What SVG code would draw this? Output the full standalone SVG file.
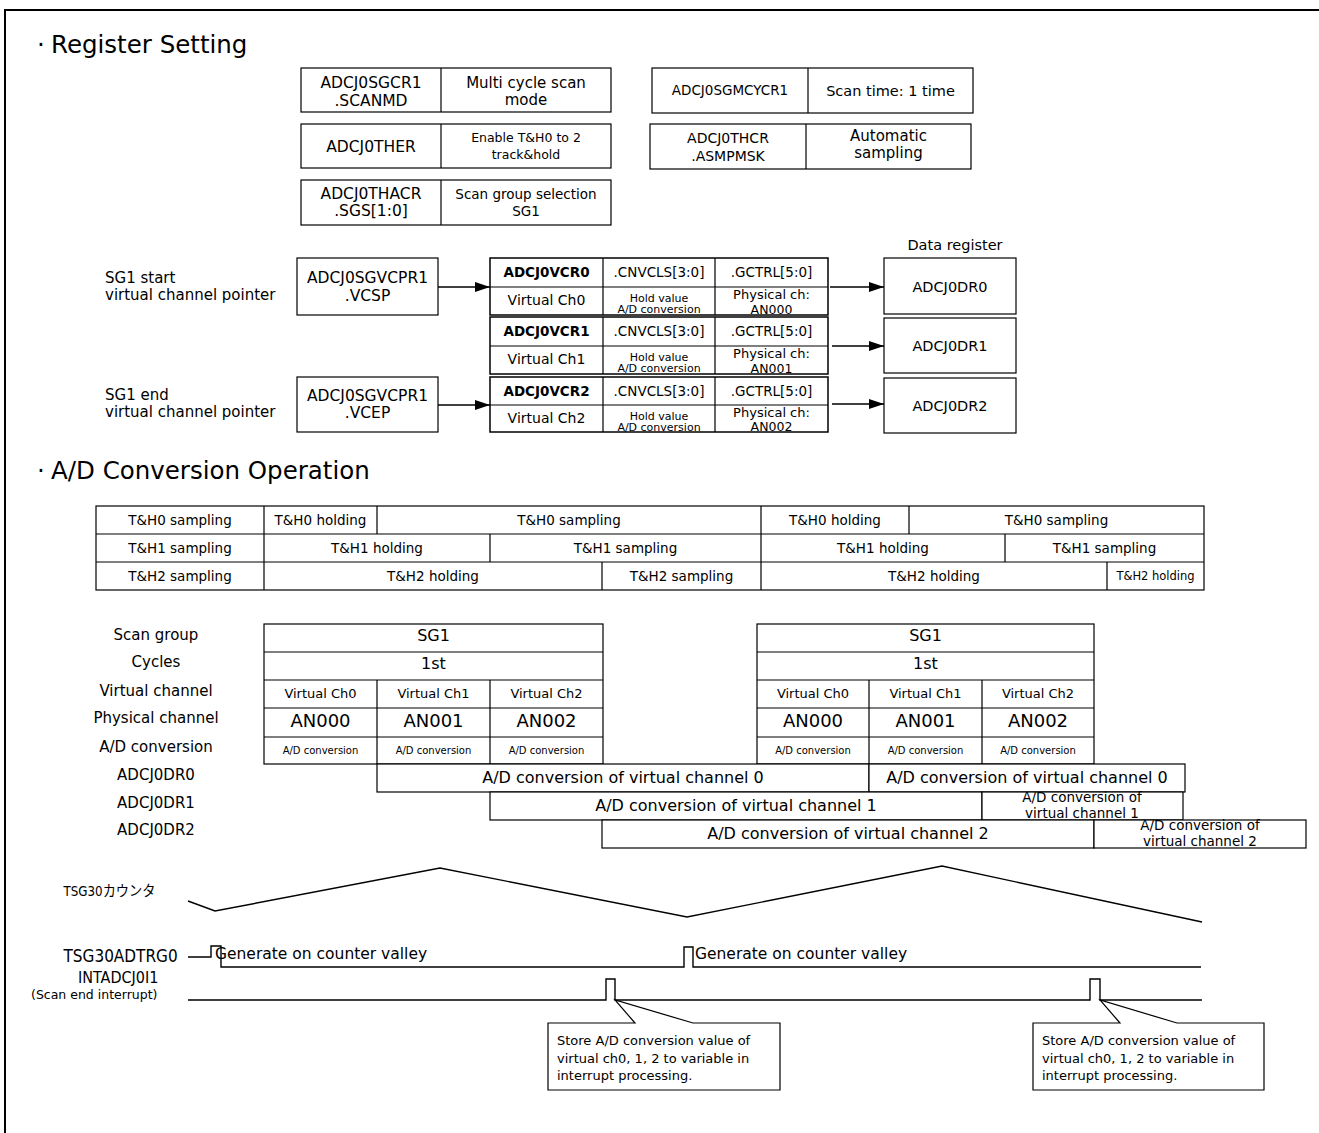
<svg xmlns="http://www.w3.org/2000/svg" width="1319" height="1133" viewBox="0 0 1319 1133">
<style>
  text { font-family: "DejaVu Sans", Verdana, sans-serif; fill: #000; }
  .m { text-anchor: middle; }
  .cn { font-family: "DejaVu Sans Condensed", "DejaVu Sans", sans-serif; }
  .jp { font-family: "DejaVu Sans Condensed", "Noto Sans CJK JP", sans-serif; }
  .b { font-weight: bold; }
  .box { fill: #fff; stroke: #000; stroke-width: 1.2; }
  .grp { fill: #fff; stroke: #000; stroke-width: 1.5; }
  .ln { fill: none; stroke: #000; stroke-width: 1.2; }
  .wave { fill: none; stroke: #000; stroke-width: 1.4; }
  .arr { fill: none; stroke: #000; stroke-width: 1.6; marker-end: url(#ah); }
  .frame { fill: none; stroke: #000; stroke-width: 2; }
  .ttl { font-size: 24.5px; }
</style>
<defs>
  <marker id="ah" markerUnits="userSpaceOnUse" markerWidth="16" markerHeight="12" refX="15" refY="6" orient="auto">
    <path d="M0,1 L15,6 L0,11 Z" fill="#000"/>
  </marker>
</defs>

<rect width="1319" height="1133" fill="#fff"/>
<path class="frame" d="M5,1133 V10 H1319"/>

<!-- section titles -->
<text class="ttl" x="37" y="53">·<tspan x="51">Register Setting</tspan></text>
<text class="ttl" x="37" y="479">·<tspan x="51">A/D Conversion Operation</tspan></text>

<!-- register setting table -->
<g id="reg-scanmd">
  <rect class="box" x="301" y="68" width="310" height="44"/>
  <line class="ln" x1="441" y1="68" x2="441" y2="112"/>
  <text class="m" x="371" y="88" font-size="15.5">ADCJ0SGCR1</text>
  <text class="m" x="371" y="106" font-size="15.5">.SCANMD</text>
  <text class="m" x="526" y="88" font-size="15">Multi cycle scan</text>
  <text class="m" x="526" y="105" font-size="15">mode</text>
</g>
<g id="reg-sgmcycr">
  <rect class="box" x="652" y="68" width="321" height="45"/>
  <line class="ln" x1="808" y1="68" x2="808" y2="113"/>
  <text class="m" x="730" y="95" font-size="13.5">ADCJ0SGMCYCR1</text>
  <text class="m" x="890.5" y="96" font-size="14.5">Scan time: 1 time</text>
</g>
<g id="reg-ther">
  <rect class="box" x="301" y="124" width="310" height="44"/>
  <line class="ln" x1="441" y1="124" x2="441" y2="168"/>
  <text class="m" x="371" y="152" font-size="15.5">ADCJ0THER</text>
  <text class="m" x="526" y="142" font-size="12.5">Enable T&amp;H0 to 2</text>
  <text class="m" x="526" y="159" font-size="12.5">track&amp;hold</text>
</g>
<g id="reg-thcr">
  <rect class="box" x="650" y="124" width="321" height="45"/>
  <line class="ln" x1="806" y1="124" x2="806" y2="169"/>
  <text class="m" x="728" y="143" font-size="14">ADCJ0THCR</text>
  <text class="m" x="728" y="161" font-size="14">.ASMPMSK</text>
  <text class="m" x="888.5" y="141" font-size="15">Automatic</text>
  <text class="m" x="888.5" y="158" font-size="15">sampling</text>
</g>
<g id="reg-thacr">
  <rect class="box" x="301" y="180" width="310" height="45"/>
  <line class="ln" x1="441" y1="180" x2="441" y2="225"/>
  <text class="m" x="371" y="199" font-size="15.5">ADCJ0THACR</text>
  <text class="m" x="371" y="216" font-size="15.5">.SGS[1:0]</text>
  <text class="m" x="526" y="199" font-size="13.5">Scan group selection</text>
  <text class="m" x="526" y="216" font-size="13.5">SG1</text>
</g>

<!-- virtual channel pointers -->
<g id="ptr-start">
  <text x="105" y="283" font-size="15">SG1 start</text>
  <text x="105" y="300" font-size="15">virtual channel pointer</text>
  <rect class="box" x="297" y="258" width="141" height="57"/>
  <text class="m" x="367.5" y="283" font-size="15.5">ADCJ0SGVCPR1</text>
  <text class="m" x="367.5" y="301" font-size="15.5">.VCSP</text>
</g>
<g id="ptr-end">
  <text x="105" y="400" font-size="15">SG1 end</text>
  <text x="105" y="417" font-size="15">virtual channel pointer</text>
  <rect class="box" x="297" y="377" width="141" height="55"/>
  <text class="m" x="367.5" y="401" font-size="15.5">ADCJ0SGVCPR1</text>
  <text class="m" x="367.5" y="418" font-size="15.5">.VCEP</text>
</g>

<!-- virtual channel registers -->
<g id="vcr0">
  <rect class="grp" x="490" y="258" width="338" height="57"/>
  <path class="ln" d="M490,287 H828 M603,258 V315 M715,258 V315"/>
  <text class="m b" x="546.5" y="277" font-size="13.5">ADCJ0VCR0</text>
  <text class="m" x="659" y="277" font-size="13.5">.CNVCLS[3:0]</text>
  <text class="m" x="771.5" y="277" font-size="13.5">.GCTRL[5:0]</text>
  <text class="m" x="546.5" y="305" font-size="14">Virtual Ch0</text>
  <text class="m" x="659" y="302" font-size="11">Hold value</text>
  <text class="m" x="659" y="313" font-size="11">A/D conversion</text>
  <text class="m" x="771.5" y="298.5" font-size="13">Physical ch:</text>
  <text class="m" x="771.5" y="314" font-size="12.5">AN000</text>
</g>
<g id="vcr1">
  <rect class="grp" x="490" y="317" width="338" height="57"/>
  <path class="ln" d="M490,346 H828 M603,317 V374 M715,317 V374"/>
  <text class="m b" x="546.5" y="336" font-size="13.5">ADCJ0VCR1</text>
  <text class="m" x="659" y="336" font-size="13.5">.CNVCLS[3:0]</text>
  <text class="m" x="771.5" y="336" font-size="13.5">.GCTRL[5:0]</text>
  <text class="m" x="546.5" y="364" font-size="14">Virtual Ch1</text>
  <text class="m" x="659" y="361" font-size="11">Hold value</text>
  <text class="m" x="659" y="372" font-size="11">A/D conversion</text>
  <text class="m" x="771.5" y="357.5" font-size="13">Physical ch:</text>
  <text class="m" x="771.5" y="373" font-size="12.5">AN001</text>
</g>
<g id="vcr2">
  <rect class="grp" x="490" y="377" width="338" height="55"/>
  <path class="ln" d="M490,405 H828 M603,377 V432 M715,377 V432"/>
  <text class="m b" x="546.5" y="396" font-size="13.5">ADCJ0VCR2</text>
  <text class="m" x="659" y="396" font-size="13.5">.CNVCLS[3:0]</text>
  <text class="m" x="771.5" y="396" font-size="13.5">.GCTRL[5:0]</text>
  <text class="m" x="546.5" y="423" font-size="14">Virtual Ch2</text>
  <text class="m" x="659" y="420" font-size="11">Hold value</text>
  <text class="m" x="659" y="431" font-size="11">A/D conversion</text>
  <text class="m" x="771.5" y="416.5" font-size="13">Physical ch:</text>
  <text class="m" x="771.5" y="431" font-size="12.5">AN002</text>
</g>

<!-- data registers -->
<text class="m" x="955" y="250" font-size="14.5">Data register</text>
<g id="dr0">
  <rect class="box" x="884" y="258" width="132" height="56"/>
  <text class="m" x="950" y="291.5" font-size="14.5">ADCJ0DR0</text>
</g>
<g id="dr1">
  <rect class="box" x="884" y="318" width="132" height="55"/>
  <text class="m" x="950" y="351" font-size="14.5">ADCJ0DR1</text>
</g>
<g id="dr2">
  <rect class="box" x="884" y="378" width="132" height="55"/>
  <text class="m" x="950" y="411" font-size="14.5">ADCJ0DR2</text>
</g>

<!-- connectors -->
<g id="connectors">
  <line class="arr" x1="438" y1="287" x2="490" y2="287"/>
  <line class="arr" x1="438" y1="405" x2="490" y2="405"/>
  <line class="arr" x1="830" y1="287" x2="884" y2="287"/>
  <line class="arr" x1="832" y1="346" x2="884" y2="346"/>
  <line class="arr" x1="832" y1="404" x2="884" y2="404"/>
</g>

<!-- track & hold state table -->
<g id="th-table" font-size="13.5">
  <rect class="box" x="96" y="506" width="1108" height="84"/>
  <path class="ln" d="M96,534 H1204 M96,562 H1204
    M264,506 V590 M761,506 V590
    M377,506 V534 M909,506 V534
    M490,534 V562 M1005,534 V562
    M602,562 V590 M1107,562 V590"/>
  <text class="m" x="180" y="525">T&amp;H0 sampling</text>
  <text class="m" x="320.5" y="525">T&amp;H0 holding</text>
  <text class="m" x="569" y="525">T&amp;H0 sampling</text>
  <text class="m" x="835" y="525">T&amp;H0 holding</text>
  <text class="m" x="1056.5" y="525">T&amp;H0 sampling</text>
  <text class="m" x="180" y="553">T&amp;H1 sampling</text>
  <text class="m" x="377" y="553">T&amp;H1 holding</text>
  <text class="m" x="625.5" y="553">T&amp;H1 sampling</text>
  <text class="m" x="883" y="553">T&amp;H1 holding</text>
  <text class="m" x="1104.5" y="553">T&amp;H1 sampling</text>
  <text class="m" x="180" y="581">T&amp;H2 sampling</text>
  <text class="m" x="433" y="581">T&amp;H2 holding</text>
  <text class="m" x="681.5" y="581">T&amp;H2 sampling</text>
  <text class="m" x="934" y="581">T&amp;H2 holding</text>
  <text class="m" x="1155.5" y="580" font-size="11.5">T&amp;H2 holding</text>
</g>

<!-- row labels of the scan timing chart -->
<g id="row-labels" font-size="15">
  <text class="m" x="156" y="640">Scan group</text>
  <text class="m" x="156" y="667">Cycles</text>
  <text class="m" x="156" y="696">Virtual channel</text>
  <text class="m" x="156" y="723">Physical channel</text>
  <text class="m" x="156" y="752">A/D conversion</text>
  <text class="m" x="156" y="780">ADCJ0DR0</text>
  <text class="m" x="156" y="808">ADCJ0DR1</text>
  <text class="m" x="156" y="835">ADCJ0DR2</text>
</g>

<!-- scan group SG1, first pass -->
<g id="scan1">
  <rect class="box" x="264" y="624" width="339" height="140"/>
  <path class="ln" d="M264,652 H603 M264,680 H603 M264,708 H603 M264,737 H603 M377,680 V764 M490,680 V764"/>
  <text class="m" x="433.5" y="641" font-size="16">SG1</text>
  <text class="m" x="433.5" y="669" font-size="16">1st</text>
  <text class="m" x="320.5" y="698" font-size="13">Virtual Ch0</text>
  <text class="m" x="433.5" y="698" font-size="13">Virtual Ch1</text>
  <text class="m" x="546.5" y="698" font-size="13">Virtual Ch2</text>
  <text class="m" x="320.5" y="727" font-size="18">AN000</text>
  <text class="m" x="433.5" y="727" font-size="18">AN001</text>
  <text class="m" x="546.5" y="727" font-size="18">AN002</text>
  <text class="m" x="320.5" y="754" font-size="10">A/D conversion</text>
  <text class="m" x="433.5" y="754" font-size="10">A/D conversion</text>
  <text class="m" x="546.5" y="754" font-size="10">A/D conversion</text>
</g>

<!-- scan group SG1, second pass -->
<g id="scan2">
  <rect class="box" x="757" y="624" width="337" height="140"/>
  <path class="ln" d="M757,652 H1094 M757,680 H1094 M757,708 H1094 M757,737 H1094 M869,680 V764 M982,680 V764"/>
  <text class="m" x="925.5" y="641" font-size="16">SG1</text>
  <text class="m" x="925.5" y="669" font-size="16">1st</text>
  <text class="m" x="813" y="698" font-size="13">Virtual Ch0</text>
  <text class="m" x="925.5" y="698" font-size="13">Virtual Ch1</text>
  <text class="m" x="1038" y="698" font-size="13">Virtual Ch2</text>
  <text class="m" x="813" y="727" font-size="18">AN000</text>
  <text class="m" x="925.5" y="727" font-size="18">AN001</text>
  <text class="m" x="1038" y="727" font-size="18">AN002</text>
  <text class="m" x="813" y="754" font-size="10">A/D conversion</text>
  <text class="m" x="925.5" y="754" font-size="10">A/D conversion</text>
  <text class="m" x="1038" y="754" font-size="10">A/D conversion</text>
</g>

<!-- data register contents over time -->
<g id="dr0-row">
  <rect class="box" x="377" y="764" width="492" height="28"/>
  <rect class="box" x="869" y="764" width="316" height="28"/>
  <text class="m" x="623" y="783" font-size="16">A/D conversion of virtual channel 0</text>
  <text class="m" x="1027" y="783" font-size="16">A/D conversion of virtual channel 0</text>
</g>
<g id="dr1-row">
  <rect class="box" x="490" y="792" width="492" height="28"/>
  <rect class="box" x="982" y="792" width="201" height="28"/>
  <text class="m" x="736" y="811" font-size="16">A/D conversion of virtual channel 1</text>
  <text class="m" x="1082" y="802" font-size="13.5">A/D conversion of</text>
  <text class="m" x="1082" y="818" font-size="13.5">virtual channel 1</text>
</g>
<g id="dr2-row">
  <rect class="box" x="602" y="820" width="492" height="28"/>
  <rect class="box" x="1094" y="820" width="212" height="28"/>
  <text class="m" x="848" y="839" font-size="16">A/D conversion of virtual channel 2</text>
  <text class="m" x="1200" y="830" font-size="13.5">A/D conversion of</text>
  <text class="m" x="1200" y="846" font-size="13.5">virtual channel 2</text>
</g>

<!-- timer counter and trigger / interrupt waveforms -->
<g id="counter">
  <text class="jp" x="63.5" y="896" font-size="14.5" textLength="92" lengthAdjust="spacingAndGlyphs">TSG30カウンタ</text>
  <polyline class="wave" points="188,901 215,911 440,868 687,917 942,866 1202,922"/>
</g>
<g id="adtrg">
  <text class="cn" x="63.5" y="962" font-size="17">TSG30ADTRG0</text>
  <path class="wave" d="M188,957 H211 V946 H221 V967 H684 V947 H693 V967 H1201"/>
  <text x="215" y="959" font-size="15.5">Generate on counter valley</text>
  <text x="695" y="959" font-size="15.5">Generate on counter valley</text>
</g>
<g id="intadc">
  <text class="cn" x="78" y="983" font-size="16">INTADCJ0I1</text>
  <text x="31" y="999" font-size="12.5">(Scan end interrupt)</text>
  <path class="wave" d="M188,1000 H606 V979 H615 V1000 H1090 V979 H1100 V1000 H1202"/>
</g>

<!-- callouts -->
<g id="note1">
  <path class="box" d="M548,1023 H635 L615,1000 L693,1023 H780 V1090 H548 Z"/>
  <text x="557" y="1045" font-size="13">Store A/D conversion value of</text>
  <text x="557" y="1063" font-size="13">virtual ch0, 1, 2 to variable in</text>
  <text x="557" y="1080" font-size="13">interrupt processing.</text>
</g>
<g id="note2">
  <path class="box" d="M1033,1023 H1120 L1100,1000 L1177,1023 H1264 V1090 H1033 Z"/>
  <text x="1042" y="1045" font-size="13">Store A/D conversion value of</text>
  <text x="1042" y="1063" font-size="13">virtual ch0, 1, 2 to variable in</text>
  <text x="1042" y="1080" font-size="13">interrupt processing.</text>
</g>
</svg>
